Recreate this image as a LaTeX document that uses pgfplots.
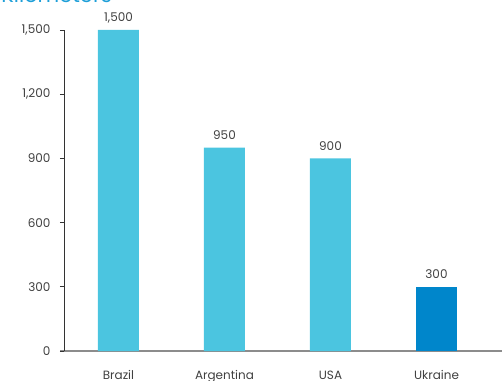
\documentclass[border=0pt]{standalone}
\usepackage{pgfplots}
\pgfplotsset{compat=1.18}
\usepackage{fontspec}
\setmainfont{Poppins}
\definecolor{lightbar}{HTML}{4BC5E0}
\definecolor{darkbar}{HTML}{0086CB}
\definecolor{txt}{HTML}{404040}
\definecolor{titleblue}{HTML}{1E9FD8}
\begin{document}
\begin{tikzpicture}[x=1pt,y=1pt]
\path[use as bounding box, clip] (0,0) rectangle (502,380);
\node[anchor=base east, text=titleblue, font=\fontsize{21}{24}\selectfont, inner sep=0pt] at (112,377) {Kilometers};
\draw[draw=black!45, line width=1.3pt] (60,29) -- (64,29);
\begin{axis}[
  at={(64pt,29pt)}, anchor=south west,
  scale only axis, width=440pt, height=321pt,
  xmin=-0.514, xmax=3.637, ymin=0, ymax=1500,
  axis x line=bottom, axis y line=left,
  x axis line style={-, draw=black!45, line width=1.3pt},
  y axis line style={-, draw=black!80, line width=0.9pt},
  ybar, bar width=41pt,
  xtick={0,1,2,3},
  xticklabels={Brazil,Argentina,USA,Ukraine},
  x tick style={draw=none},
  ytick={0,300,600,900,1200,1500},
  y tick style={draw=black!80, line width=0.9pt},
  tick align=outside, major tick length=4pt,
  /pgf/number format/assume math mode=true,
  /pgf/number format/1000 sep={,},
  ticklabel style={font=\fontsize{12}{14}\selectfont, text=txt},
  yticklabel style={xshift=-6pt},
  xticklabel style={anchor=base, yshift=-24pt},
  nodes near coords,
  every node near coord/.append style={font=\fontsize{12}{14}\selectfont, text=txt, anchor=base, yshift=8pt},
  clip=false,
]
\addplot[fill=lightbar, draw=none, bar shift=0pt] coordinates {(0,1500) (1,950) (2,900)};
\addplot[fill=darkbar, draw=none, bar shift=0pt] coordinates {(3,300)};
\end{axis}
\end{tikzpicture}
\end{document}
